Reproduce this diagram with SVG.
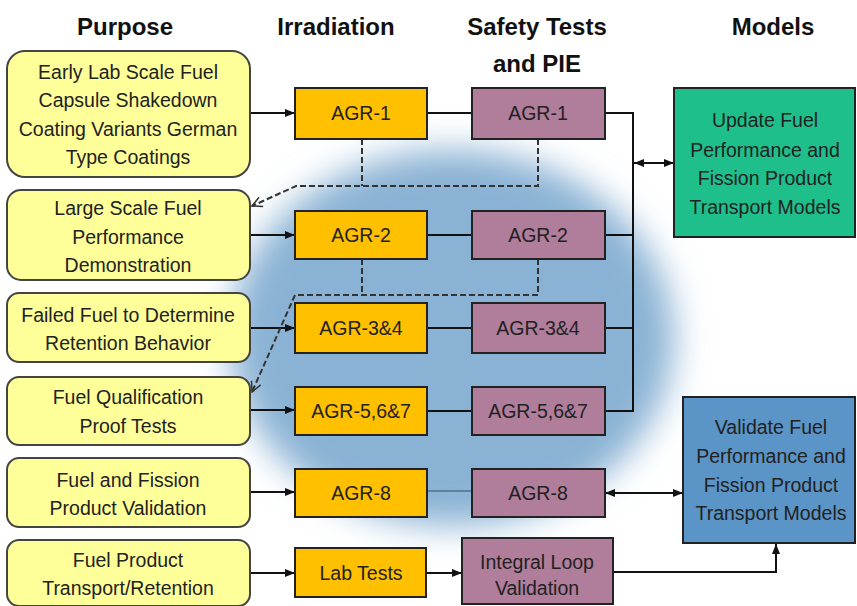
<svg xmlns="http://www.w3.org/2000/svg" width="857" height="606" viewBox="0 0 857 606">
  <defs>
    <filter id="soft" x="-30%" y="-30%" width="160%" height="160%">
      <feGaussianBlur stdDeviation="17"/>
    </filter>
    <marker id="arr" viewBox="0 0 10 10" refX="10" refY="5" markerWidth="10" markerHeight="10" markerUnits="userSpaceOnUse" orient="auto-start-reverse">
      <path d="M0,1 L10,5 L0,9 Z" fill="#111"/>
    </marker>
    <marker id="open" viewBox="0 0 12 12" refX="11" refY="6" markerWidth="12" markerHeight="12" markerUnits="userSpaceOnUse" orient="auto">
      <path d="M1,1 L11,6 L1,11" fill="none" stroke="#333" stroke-width="1.5"/>
    </marker>
    <style>
      .hdr { font-family: "Liberation Sans", Arial, sans-serif; font-weight: bold; font-size: 24px; fill: #111; text-anchor: middle; }
      .t { font-family: "Liberation Sans", Arial, sans-serif; font-size: 19.5px; fill: #222; text-anchor: middle; }
      .purpose { fill: #FFFF99; stroke: #444; stroke-width: 2; }
      .irr { fill: #FFC000; stroke: #222; stroke-width: 2; }
      .pie { fill: #B07D9B; stroke: #222; stroke-width: 2; }
      .green { fill: #1FBF8C; stroke: #222; stroke-width: 2; }
      .blue { fill: #5B94C6; stroke: #222; stroke-width: 2; }
      .ln { fill: none; stroke: #111; stroke-width: 2; }
      .dash { fill: none; stroke: #333; stroke-width: 2; stroke-dasharray: 6 3; }
    </style>
  </defs>

  <rect width="857" height="606" fill="#fff"/>

  <!-- soft blue halo behind the irradiation / PIE columns -->
  <ellipse cx="452" cy="338" rx="222" ry="188" fill="#8AB2D4" filter="url(#soft)"/>

  <!-- column headings -->
  <g id="headings">
    <text class="hdr" x="125" y="35">Purpose</text>
    <text class="hdr" x="336" y="35">Irradiation</text>
    <text class="hdr" x="537" y="35">Safety Tests</text>
    <text class="hdr" x="537" y="72">and PIE</text>
    <text class="hdr" x="773" y="35">Models</text>
  </g>

  <!-- connectors -->
  <g id="connectors">
    <!-- purpose to irradiation -->
    <line class="ln" x1="250" y1="113" x2="295" y2="113" marker-end="url(#arr)"/>
    <line class="ln" x1="250" y1="235" x2="295" y2="235" marker-end="url(#arr)"/>
    <line class="ln" x1="250" y1="328" x2="295" y2="328" marker-end="url(#arr)"/>
    <line class="ln" x1="250" y1="410" x2="295" y2="410" marker-end="url(#arr)"/>
    <line class="ln" x1="250" y1="492" x2="295" y2="492" marker-end="url(#arr)"/>
    <line class="ln" x1="250" y1="573" x2="295" y2="573" marker-end="url(#arr)"/>
    <!-- irradiation to PIE -->
    <line class="ln" x1="427" y1="113" x2="472" y2="113"/>
    <line class="ln" x1="427" y1="235" x2="472" y2="235"/>
    <line class="ln" x1="427" y1="328" x2="472" y2="328"/>
    <line class="ln" x1="427" y1="411" x2="472" y2="411"/>
    <line x1="427" y1="491" x2="472" y2="491" stroke="#4F6F8F" stroke-width="1.5"/>
    <line class="ln" x1="426" y1="573" x2="462" y2="573" marker-end="url(#arr)"/>
    <!-- PIE results bus to update models -->
    <polyline class="ln" points="605,113 633,113 633,411 605,411"/>
    <line class="ln" x1="605" y1="235" x2="633" y2="235"/>
    <line class="ln" x1="605" y1="328" x2="633" y2="328"/>
    <line class="ln" x1="634" y1="163" x2="674" y2="163" marker-start="url(#arr)" marker-end="url(#arr)"/>
    <!-- validation links -->
    <line class="ln" x1="605" y1="493" x2="683" y2="493" marker-start="url(#arr)" marker-end="url(#arr)"/>
    <polyline class="ln" points="613,572 776,572 776,544" marker-end="url(#arr)"/>
    <!-- feedback from AGR-1 to next purpose -->
    <line class="dash" x1="362" y1="139" x2="362" y2="186"/>
    <polyline class="dash" points="538,139 538,186 296,186 252,206" marker-end="url(#open)"/>
    <!-- feedback from AGR-2 to proof tests -->
    <line class="dash" x1="362" y1="259" x2="362" y2="295"/>
    <polyline class="dash" points="538,259 538,295 295,295 252,392" marker-end="url(#open)"/>
  </g>

  <!-- purpose column -->
  <g id="p1">
    <rect class="purpose" x="7" y="51" width="243" height="126" rx="18"/>
    <text class="t" x="128" y="79">Early Lab Scale Fuel</text>
    <text class="t" x="128" y="107">Capsule Shakedown</text>
    <text class="t" x="128" y="136">Coating Variants German</text>
    <text class="t" x="128" y="164">Type Coatings</text>
  </g>
  <g id="p2">
    <rect class="purpose" x="7" y="190" width="243" height="90" rx="14"/>
    <text class="t" x="128" y="215">Large Scale Fuel</text>
    <text class="t" x="128" y="244">Performance</text>
    <text class="t" x="128" y="272">Demonstration</text>
  </g>
  <g id="p3">
    <rect class="purpose" x="7" y="293" width="243" height="69" rx="12"/>
    <text class="t" x="128" y="322">Failed Fuel to Determine</text>
    <text class="t" x="128" y="350">Retention Behavior</text>
  </g>
  <g id="p4">
    <rect class="purpose" x="7" y="377" width="243" height="68" rx="12"/>
    <text class="t" x="128" y="404">Fuel Qualification</text>
    <text class="t" x="128" y="433">Proof Tests</text>
  </g>
  <g id="p5">
    <rect class="purpose" x="7" y="458" width="243" height="69" rx="12"/>
    <text class="t" x="128" y="487">Fuel and Fission</text>
    <text class="t" x="128" y="515">Product Validation</text>
  </g>
  <g id="p6">
    <rect class="purpose" x="7" y="540" width="243" height="66" rx="12"/>
    <text class="t" x="128" y="567">Fuel Product</text>
    <text class="t" x="128" y="595">Transport/Retention</text>
  </g>

  <!-- irradiation column -->
  <g id="i1"><rect class="irr" x="295" y="88" width="132" height="51"/><text class="t" x="361" y="120">AGR-1</text></g>
  <g id="i2"><rect class="irr" x="295" y="211" width="132" height="48"/><text class="t" x="361" y="242">AGR-2</text></g>
  <g id="i3"><rect class="irr" x="295" y="303" width="132" height="50"/><text class="t" x="361" y="335">AGR-3&amp;4</text></g>
  <g id="i4"><rect class="irr" x="295" y="387" width="132" height="48"/><text class="t" x="361" y="418">AGR-5,6&amp;7</text></g>
  <g id="i5"><rect class="irr" x="295" y="469" width="132" height="48"/><text class="t" x="361" y="500">AGR-8</text></g>
  <g id="i6"><rect class="irr" x="295" y="548" width="131" height="49"/><text class="t" x="361" y="580">Lab Tests</text></g>

  <!-- safety tests and PIE column -->
  <g id="s1"><rect class="pie" x="472" y="88" width="133" height="51"/><text class="t" x="538" y="120">AGR-1</text></g>
  <g id="s2"><rect class="pie" x="472" y="211" width="133" height="48"/><text class="t" x="538" y="242">AGR-2</text></g>
  <g id="s3"><rect class="pie" x="472" y="303" width="133" height="50"/><text class="t" x="538" y="335">AGR-3&amp;4</text></g>
  <g id="s4"><rect class="pie" x="472" y="387" width="133" height="48"/><text class="t" x="538" y="418">AGR-5,6&amp;7</text></g>
  <g id="s5"><rect class="pie" x="472" y="469" width="133" height="48"/><text class="t" x="538" y="500">AGR-8</text></g>
  <g id="s6">
    <rect class="pie" x="462" y="538" width="151" height="66"/>
    <text class="t" x="537" y="569">Integral Loop</text>
    <text class="t" x="537" y="595">Validation</text>
  </g>

  <!-- models column -->
  <g id="m1">
    <rect class="green" x="674" y="88" width="181" height="149"/>
    <text class="t" x="765" y="127">Update Fuel</text>
    <text class="t" x="765" y="157">Performance and</text>
    <text class="t" x="765" y="185">Fission Product</text>
    <text class="t" x="765" y="214">Transport Models</text>
  </g>
  <g id="m2">
    <rect class="blue" x="683" y="397" width="172" height="146"/>
    <text class="t" x="771" y="434">Validate Fuel</text>
    <text class="t" x="771" y="463">Performance and</text>
    <text class="t" x="771" y="492">Fission Product</text>
    <text class="t" x="771" y="520">Transport Models</text>
  </g>
</svg>
